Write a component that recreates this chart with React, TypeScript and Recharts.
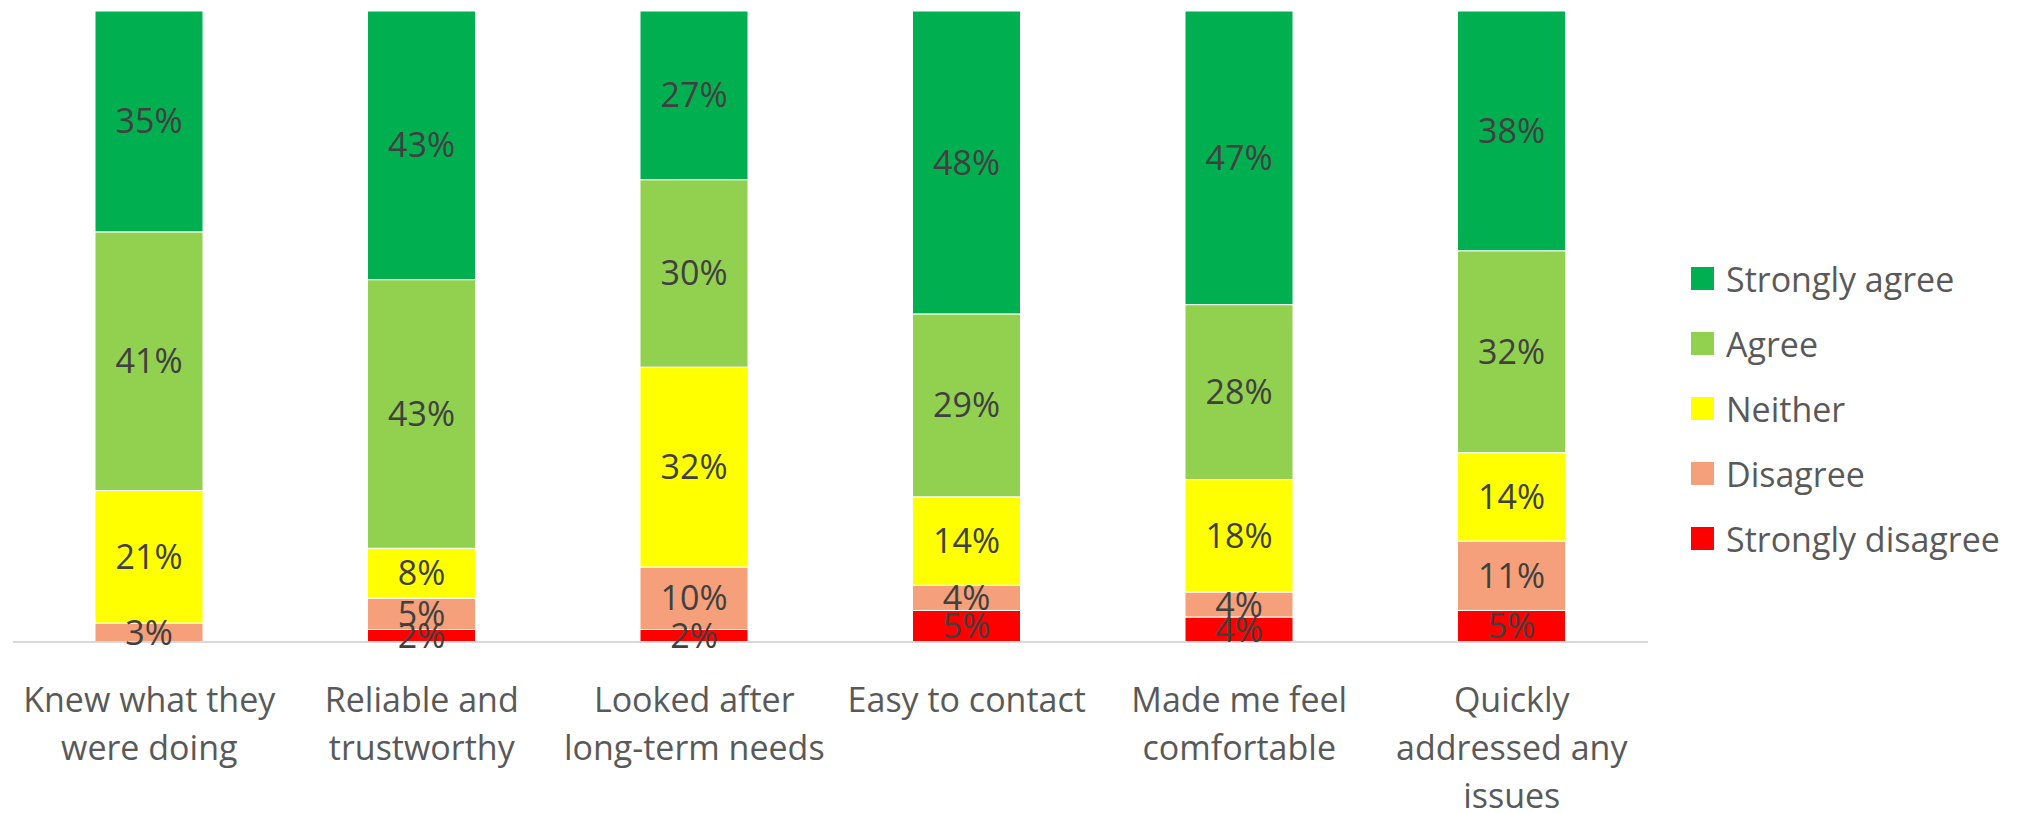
import { BarChart, Bar, XAxis, YAxis, LabelList } from "recharts";

const categories = [
  "Knew what they\nwere doing",
  "Reliable and\ntrustworthy",
  "Looked after\nlong-term needs",
  "Easy to contact",
  "Made me feel\ncomfortable",
  "Quickly\naddressed any\nissues",
];

// percentages as printed on the segments
const stronglyAgree = [35, 43, 27, 48, 47, 38];
const agree = [41, 43, 30, 29, 28, 32];
const neither = [21, 8, 32, 14, 18, 14];
const disagree = [3, 5, 10, 4, 4, 11];
const stronglyDisagree = [0, 2, 2, 5, 4, 5];

// bottom of the stack first
const series = [
  { key: "sd", name: "Strongly disagree", values: stronglyDisagree, color: "#FF0000" },
  { key: "d", name: "Disagree", values: disagree, color: "#F5A07A" },
  { key: "n", name: "Neither", values: neither, color: "#FFFF00" },
  { key: "a", name: "Agree", values: agree, color: "#92D050" },
  { key: "sa", name: "Strongly agree", values: stronglyAgree, color: "#00B050" },
];

const data = categories.map((name, i) => {
  const row: Record<string, any> = { name };
  for (const s of series) row[s.key] = s.values[i];
  return row;
});

const FONT = "'Segoe UI', 'Open Sans', sans-serif";

function CategoryTick({ x, y, payload }: any) {
  const lines = String(payload.value).split("\n");
  return (
    <text
      x={x}
      y={y}
      textAnchor="middle"
      fill="#595959"
      fontFamily={FONT}
      fontSize={34}
    >
      {lines.map((line, i) => (
        <tspan key={i} x={x} dy={i === 0 ? 70 : 48}>
          {line}
        </tspan>
      ))}
    </text>
  );
}

function fmtPct(v: any) {
  const n = Number(v);
  return n > 0 ? `${n}%` : "";
}

export default function App() {
  return (
    <div
      style={{
        position: "absolute",
        left: 0,
        top: 0,
        width: 2018,
        height: 813,
        background: "#fff",
      }}
    >
      <BarChart
        width={2018}
        height={813}
        data={data}
        stackOffset="expand"
        margin={{ top: 11, right: 370, bottom: 0, left: 13 }}
      >
        <XAxis
          dataKey="name"
          height={171}
          interval={0}
          tickLine={false}
          tickSize={0}
          tickMargin={0}
          axisLine={{ stroke: "#d9d9d9", strokeWidth: 2 }}
          tick={<CategoryTick />}
        />
        <YAxis hide domain={[0, 1]} />
        {series.map((s) => (
          <Bar
            key={s.key}
            dataKey={s.key}
            name={s.name}
            stackId="all"
            fill={s.color}
            stroke="#ffffff"
            strokeWidth={1}
            barSize={108}
            isAnimationActive={false}
          >
            <LabelList
              dataKey={s.key}
              position="center"
              formatter={fmtPct}
              fill="#404040"
              fontFamily={FONT}
              fontSize={34}
            />
          </Bar>
        ))}
      </BarChart>

      {/* legend, top item is the top of the stack */}
      <div style={{ position: "absolute", left: 1691, top: 246 }}>
        {[...series].reverse().map((s) => (
          <div
            key={s.key}
            style={{ display: "flex", alignItems: "center", height: 65 }}
          >
            <div
              style={{ width: 23, height: 23, background: s.color, marginRight: 12 }}
            />
            <span style={{ fontFamily: FONT, fontSize: 34, color: "#595959" }}>
              {s.name}
            </span>
          </div>
        ))}
      </div>
    </div>
  );
}
